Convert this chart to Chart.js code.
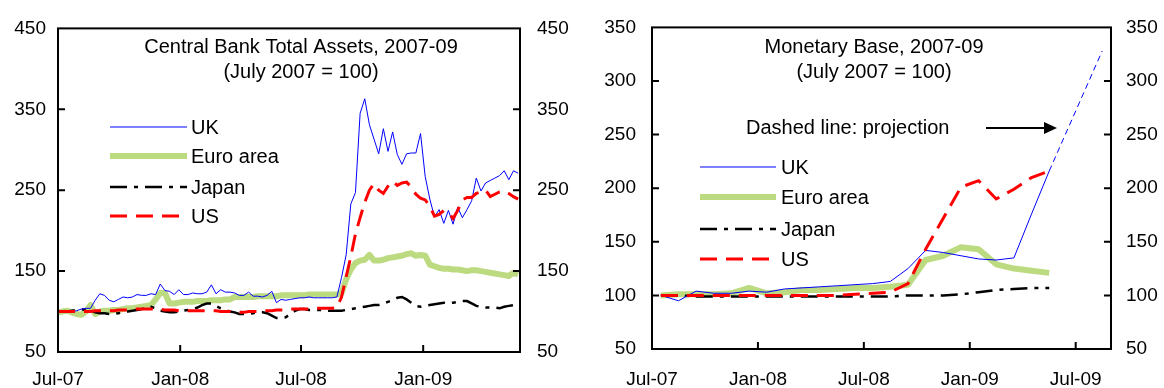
<!DOCTYPE html>
<html>
<head>
<meta charset="utf-8">
<script src="https://cdn.jsdelivr.net/npm/chart.js@4.4.1/dist/chart.umd.min.js"></script>
<style>
  html, body { margin: 0; padding: 0; background: #fff; }
  #wrap { position: relative; width: 1164px; height: 388px; }
  canvas { position: absolute; top: 0; }
  #assetsChart { left: 0; }
  #baseChart { left: 582px; }
</style>
</head>
<body>
<div id="wrap">
  <canvas id="assetsChart" width="582" height="388"></canvas>
  <canvas id="baseChart" width="582" height="388"></canvas>
</div>
<script>
// ---- Left panel: central bank total assets, weekly, July 2007 = 100 ----
// x = weeks since 1 Jul 2007
const assetsTickLabels = ['Jul-07', 'Jan-08', 'Jul-08', 'Jan-09'];
const assetsTickWeeks = [0, 26.29, 52.29, 78.57];
const assetsLastWeek = 99.4;

const assetsUK = [
  100, 100, 100, 100, 101, 103, 104, 104, 114, 122,
  120, 114, 112, 115, 118, 117, 118, 121, 120, 120,
  122, 121, 134, 126, 125, 121, 127, 121, 121, 123,
  122, 122, 124, 133, 122, 127, 124, 124, 123, 120,
  120, 124, 119, 119, 118, 120, 125, 111, 115, 114,
  115, 116, 117, 117, 118, 117, 117, 117, 117, 117,
  118, 142, 170, 233, 247, 345, 363, 331, 313, 295,
  326, 298, 322, 294, 282, 295, 296, 296, 320, 267,
  239, 217, 226, 209, 225, 208, 229, 216, 226, 237,
  265, 249, 259, 262, 265, 268, 274, 263, 274, 271
];
const assetsEuro = [
  99, 100, 101, 99, 97, 96, 100, 108, 97, 100,
  101, 101, 102, 102, 103, 104, 104, 105, 106, 107,
  108, 115, 123, 123, 110, 110, 111, 112, 112, 112,
  113, 113, 113, 114, 114, 114, 115, 115, 118, 118,
  118, 118, 118, 119, 119, 119, 119, 119, 120, 120,
  120, 120, 120, 120, 121, 121, 121, 121, 121, 121,
  121, 123, 140, 152, 160, 163, 164, 170, 163, 163,
  164, 166, 167, 168, 169, 171, 172, 169, 170, 169,
  158, 156, 154, 153, 153, 152, 152, 151, 150, 151,
  151, 150, 149, 148, 147, 146, 145, 144, 148, 146
];
const assetsJapan = [
  100, 100, 100, 101, 102, 103, 102, 101, 99, 98,
  98, 97, 97, 98, 99, 100, 101, 102, 103, 105,
  106, 104, 101, 100, 99, 99, 100, 101, 102, 103,
  105, 108, 110, 110, 107, 104, 102, 100, 99, 97,
  97, 97, 98, 99, 99, 98, 95, 92, 92, 93,
  97, 101, 103, 103, 102, 102, 102, 102, 101, 101,
  101, 101, 102, 103, 104, 105, 106, 107, 108, 108,
  110, 112, 114, 117, 118, 115, 111, 107, 106, 107,
  108, 109, 110, 111, 110, 111, 112, 113, 113, 110,
  107, 106, 105, 105, 105, 104, 106, 107, 108, 109
];
const assetsUS = [
  100, 100, 100, 100, 100, 100, 100, 100, 101, 101,
  101, 101, 101, 102, 102, 102, 102, 103, 103, 103,
  103, 103, 103, 102, 102, 102, 101, 101, 101, 101,
  101, 101, 101, 101, 101, 100, 100, 100, 99, 99,
  99, 100, 100, 100, 101, 101, 101, 102, 102, 102,
  103, 103, 103, 103, 103, 103, 104, 104, 104, 104,
  105, 118, 143, 168, 196, 216, 235, 250, 258, 250,
  246, 255, 261, 256, 259, 260, 254, 245, 240, 238,
  230, 218, 220, 225, 222, 215, 225, 238, 241, 241,
  246, 248, 250, 242, 245, 248, 249, 246, 242, 239
];

// ---- Right panel: monetary base, monthly (mid-month), July 2007 = 100 ----
// x = months since 1 Jul 2007
const baseTickLabels = ['Jul-07', 'Jan-08', 'Jul-08', 'Jan-09', 'Jul-09'];
const baseTickMonths = [0, 6, 12, 18, 24];
const baseLastMonth = 26;

const baseUK = [100, 95, 104, 102, 102, 104, 103, 106, 107, 108, 109, 110, 111, 113, 125, 142, 140, 137, 134, 133, 135, 176, 216];
const baseUKProjection = [328];   // Aug-09
const baseUKProjectionMonth = 25;
const baseEuro = [100, 101, 101, 101, 102, 107, 102, 103, 105, 105, 106, 107, 107, 108, 110, 133, 137, 145, 143, 129, 125, 123, 121];
const baseJapan = [100, 100, 99, 99, 99, 99, 99, 99, 99, 99, 99, 99, 99, 99, 100, 100, 100, 101, 103, 105, 106, 107, 107];
const baseUS = [100, 100, 100, 100, 100, 100, 100, 100, 100, 100, 100, 101, 102, 103, 111, 143, 172, 201, 207, 190, 199, 210, 216];

const FONT = '"Liberation Sans", Arial, sans-serif';
const ukColor = '#0000FF';
const euroColor = '#BCDA80';
const usColor = '#FF0000';

function seriesStyles() {
  return {
    uk: { label: 'UK', borderColor: ukColor, borderWidth: 1, order: 1 },
    euro: { label: 'Euro area', borderColor: euroColor, borderWidth: 6, borderJoinStyle: 'round', order: 3 },
    japan: { label: 'Japan', borderColor: '#000', borderWidth: 2.5, borderDash: [17, 7, 4, 7], order: 2 },
    us: { label: 'US', borderColor: usColor, borderWidth: 3, borderDash: [17, 9], order: 0 }
  };
}

// frame, inward tick marks, inner title, legend, note
const panelDecor = {
  id: 'panelDecor',
  afterDraw(chart, args, o) {
    const ctx = chart.ctx;
    const a = chart.chartArea;
    ctx.save();
    ctx.strokeStyle = '#000';
    ctx.lineWidth = 2;
    ctx.setLineDash([]);
    ctx.strokeRect(a.left, a.top, a.right - a.left, a.bottom - a.top);

    ctx.beginPath();
    const ys = chart.scales.y;
    ys.ticks.forEach(t => {
      const py = ys.getPixelForValue(t.value);
      if (py <= a.top + 1 || py >= a.bottom - 1) return;
      ctx.moveTo(a.left, py); ctx.lineTo(a.left + 7, py);
      ctx.moveTo(a.right, py); ctx.lineTo(a.right - 7, py);
    });
    const xs = chart.scales.x;
    xs.ticks.forEach(t => {
      const px = xs.getPixelForValue(t.value);
      if (px <= a.left + 1 || px >= a.right - 1) return;
      ctx.moveTo(px, a.bottom); ctx.lineTo(px, a.bottom - 7);
    });
    ctx.stroke();

    ctx.fillStyle = '#000';
    ctx.font = '20px ' + FONT;
    ctx.textAlign = 'center';
    ctx.textBaseline = 'middle';
    o.title.forEach((line, i) => ctx.fillText(line, o.titleX, 47 + i * 25));

    // legend
    ctx.textAlign = 'left';
    chart.data.datasets.forEach((ds, i) => {
      const y = o.legendRows[i];
      ctx.strokeStyle = ds.borderColor;
      ctx.lineWidth = ds.borderWidth;
      ctx.setLineDash(ds.borderDash || []);
      ctx.beginPath();
      ctx.moveTo(o.legendX[0], y);
      ctx.lineTo(o.legendX[1], y);
      ctx.stroke();
      ctx.fillText(ds.label, o.legendX[2], y + 1);
    });

    if (o.note) {
      ctx.setLineDash([]);
      ctx.fillText(o.note.text, o.note.x, o.note.y);
      ctx.strokeStyle = '#000';
      ctx.lineWidth = 2;
      ctx.beginPath();
      ctx.moveTo(o.note.arrow[0], o.note.y);
      ctx.lineTo(o.note.arrow[1] - 10, o.note.y);
      ctx.stroke();
      ctx.beginPath();
      ctx.moveTo(o.note.arrow[1], o.note.y);
      ctx.lineTo(o.note.arrow[1] - 13, o.note.y - 6);
      ctx.lineTo(o.note.arrow[1] - 13, o.note.y + 6);
      ctx.closePath();
      ctx.fill();
    }
    ctx.restore();
  }
};

function panelScales(cfg) {
  const tickFont = { family: FONT, size: 19 };
  const yAxis = (position, width, pad) => ({
    position: position,
    min: cfg.yMin,
    max: cfg.yMax,
    ticks: { stepSize: cfg.yStep, font: tickFont, color: '#000', padding: pad },
    grid: { display: false, drawTicks: false },
    border: { display: false },
    afterFit: s => { s.width = width; }
  });
  return {
    x: {
      type: 'linear',
      min: 0,
      max: cfg.xMax,
      afterBuildTicks: s => { s.ticks = cfg.tickValues.map(v => ({ value: v })); },
      ticks: {
        callback: (v, i) => cfg.tickLabels[i],
        font: tickFont, color: '#000', padding: cfg.xPad,
        maxRotation: 0, autoSkip: false
      },
      grid: { display: false, drawTicks: false },
      border: { display: false },
      afterFit: s => { s.height = cfg.xHeight; }
    },
    y: yAxis('left', cfg.leftWidth, cfg.leftPad),
    y2: yAxis('right', cfg.rightWidth, cfg.rightPad)
  };
}

function baseOptions(scales, decor) {
  return {
    responsive: false,
    animation: false,
    layout: { padding: { top: 24, left: 0, right: 0, bottom: 0 } },
    elements: { point: { radius: 0 }, line: { tension: 0 } },
    plugins: { legend: { display: false }, tooltip: { enabled: false }, panelDecor: decor },
    scales: scales
  };
}

// ---- Left chart ----
const weekPoints = vals => vals.map((v, i) => ({ x: i, y: v }));
const st = seriesStyles();

new Chart(document.getElementById('assetsChart'), {
  type: 'line',
  data: {
    datasets: [
      Object.assign({ data: weekPoints(assetsUK) }, st.uk),
      Object.assign({ data: weekPoints(assetsEuro) }, st.euro),
      Object.assign({ data: weekPoints(assetsJapan) }, st.japan),
      Object.assign({ data: weekPoints(assetsUS) }, st.us)
    ]
  },
  options: baseOptions(
    panelScales({
      yMin: 50, yMax: 450, yStep: 100,
      xMax: assetsLastWeek, tickValues: assetsTickWeeks, tickLabels: assetsTickLabels,
      leftWidth: 58, leftPad: 12, rightWidth: 62, rightPad: 17,
      xHeight: 36, xPad: 16
    }),
    {
      title: ['Central Bank Total Assets, 2007-09', '(July 2007 = 100)'],
      titleX: 301,
      legendX: [110, 187, 191],
      legendRows: [127, 156, 187, 216]
    }
  ),
  plugins: [panelDecor]
});

// ---- Right chart ----
const monthPoints = vals => vals.map((v, i) => ({ x: i + 0.5, y: v }));
const projStart = baseUK.length - 1;
const ukWithProjection = monthPoints(baseUK).concat(
  baseUKProjection.map((v, i) => ({ x: baseUKProjectionMonth + i + 0.5, y: v }))
);

new Chart(document.getElementById('baseChart'), {
  type: 'line',
  data: {
    datasets: [
      Object.assign({
        data: ukWithProjection,
        segment: { borderDash: c => (c.p0DataIndex >= projStart ? [6, 4] : undefined) }
      }, st.uk),
      Object.assign({ data: monthPoints(baseEuro) }, st.euro),
      Object.assign({ data: monthPoints(baseJapan) }, st.japan),
      Object.assign({ data: monthPoints(baseUS) }, st.us)
    ]
  },
  options: baseOptions(
    panelScales({
      yMin: 50, yMax: 350, yStep: 50,
      xMax: baseLastMonth, tickValues: baseTickMonths, tickLabels: baseTickLabels,
      leftWidth: 70, leftPad: 16, rightWidth: 53, rightPad: 15,
      xHeight: 39, xPad: 19
    }),
    {
      title: ['Monetary Base, 2007-09', '(July 2007 = 100)'],
      titleX: 292,
      legendX: [118, 194, 199],
      legendRows: [167, 197, 229, 259],
      note: { text: 'Dashed line: projection', x: 164, y: 128, arrow: [404, 475] }
    }
  ),
  plugins: [panelDecor]
});
</script>
</body>
</html>
